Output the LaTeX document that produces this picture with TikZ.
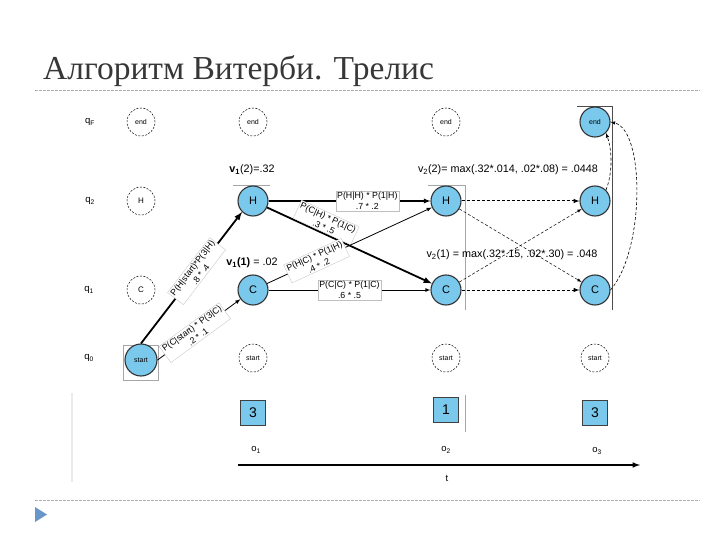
\documentclass[tikz,border=0pt]{standalone}
\usepackage{fontspec}
\setmainfont{Liberation Sans}
\newfontfamily\titlefont{Liberation Serif}
\usetikzlibrary{arrows, positioning, calc}
\definecolor{stateblue}{RGB}{122,200,236}
\definecolor{titlegray}{RGB}{55,55,55}
\definecolor{rulegray}{RGB}{175,175,175}
\definecolor{bulletblue}{RGB}{105,150,200}

\begin{document}
\begin{tikzpicture}[x=1pt, y=-1pt,
    >=latex,
    state/.style={circle, draw=black!80, line width=1.1pt, fill=stateblue, minimum size=30pt, inner sep=0pt, font=\fontsize{11}{11}\selectfont},
    ghost/.style={circle, draw, dash pattern=on 2pt off 1.5pt, line width=0.5pt, minimum size=28pt, inner sep=0pt, font=\fontsize{8}{8}\selectfont},
    obsbox/.style={rectangle, draw=black!75, line width=0.9pt, fill=stateblue, minimum size=25pt, inner sep=0pt, font=\fontsize{14}{14}\selectfont},
    edgelbl/.style={fill=white, draw=black!25, line width=0.3pt, align=center, inner sep=1.5pt, font=\fontsize{8.8}{10.5}\selectfont},
    vallbl/.style={font=\fontsize{10.8}{11}\selectfont, inner sep=0pt},
    rowlbl/.style={font=\fontsize{9.5}{10}\selectfont, inner sep=0pt},
    frame/.style={draw=black!35, line width=0.4pt}
]
    \useasboundingbox (0,0) rectangle (720,540);

    % Title and rules
    \node[anchor=base west, inner sep=0pt, text=titlegray, font=\titlefont\fontsize{33.5}{34}\selectfont] (title) at (43,80) {Алгоритм Витерби. Трелис};
    \coordinate (rtl) at (35,90);  \coordinate (rtr) at (700,90);
    \coordinate (rbl) at (35,500); \coordinate (rbr) at (700,500);
    \draw[rulegray, dash pattern=on 3pt off 1pt, line width=0.8pt] (rtl) -- (rtr);
    \draw[rulegray, dash pattern=on 3pt off 1pt, line width=0.8pt] (rbl) -- (rbr);
    \fill[bulletblue] (35,507) -- (47,514.5) -- (35,522) -- cycle;

    % Frames left over in the picture
    \draw[frame] (123,345) rectangle (158,380);
    \draw[frame] (233,185) -- (270,185);
    \draw[frame] (428,185) -- (465,185) -- (465,310);
    \draw[frame, draw=black!70] (577,106) -- (612,106) -- (612,310);
    \draw[frame] (465,395) -- (465,432);
    \draw[draw=black!8, line width=2pt] (72,393) -- (72,482);

    % Row labels
    \node[rowlbl] (qF) at (90,122) {q\textsubscript{F}};
    \node[rowlbl] (q2) at (90,201) {q\textsubscript{2}};
    \node[rowlbl] (q1) at (89,290) {q\textsubscript{1}};
    \node[rowlbl] (q0) at (89,358) {q\textsubscript{0}};

    % Column 0
    \node[ghost, font=\fontsize{7}{7}\selectfont] (end0) at (141,122) {end};
    \node[ghost] (H0) at (141,201) {H};
    \node[ghost] (C0) at (141,290) {C};
    \node[state, minimum size=32pt, font=\fontsize{7}{7}\selectfont] (start0) at (141,360) {start};

    % Column 1
    \node[ghost, font=\fontsize{7}{7}\selectfont] (end1) at (253,122) {end};
    \node[state] (H1) at (253,201) {H};
    \node[state] (C1) at (253,290) {C};
    \node[ghost, font=\fontsize{7}{7}\selectfont] (start1) at (253,358) {start};

    % Column 2
    \node[ghost, font=\fontsize{7}{7}\selectfont] (end2) at (446,122) {end};
    \node[state] (H2) at (446,201) {H};
    \node[state] (C2) at (446,290) {C};
    \node[ghost, font=\fontsize{7}{7}\selectfont] (start2) at (446,358) {start};

    % Column 3
    \node[state, font=\fontsize{7}{7}\selectfont] (end3) at (595,122) {end};
    \node[state] (H3) at (595,201) {H};
    \node[state] (C3) at (595,290) {C};
    \node[ghost, font=\fontsize{7}{7}\selectfont] (start3) at (595,358) {start};

    % Viterbi values
    \node[vallbl] (v12) at (252,170) {\textbf{v\textsubscript{1}}(2)=.32};
    \node[vallbl] (v11) at (252,263) {\textbf{v\textsubscript{1}(1)} = .02};
    \node[vallbl] (v22) at (508,170) {v\textsubscript{2}(2)= max(.32*.014, .02*.08) = .0448};
    \node[vallbl] (v21) at (512,255) {v\textsubscript{2}(1) = max(.32*.15, .02*.30) = .048};

    % Transitions from start
    \draw[->, line width=1.8pt] (start0.north) -- node[edgelbl, sloped, pos=0.55] {P(H|start)*P(3|H)\\.8 * .4} (H1.south west);
    \draw[->, line width=0.8pt] (start0.east) -- node[edgelbl, sloped, pos=0.45] {P(C|start) * P(3|C)\\.2 * .1} (C1);

    % Transitions t1 -> t2
    \draw[->, line width=1.3pt] (H1) -- node[edgelbl, pos=0.61] {P(H|H) * P(1|H)\\.7 * .2} (H2);
    \draw[->, line width=1.8pt] (H1) -- node[edgelbl, sloped, pos=0.33, above=1pt] {P(C|H) * P(1|C)\\.3 * .5} (C2);
    \draw[->, line width=0.8pt] (C1) -- node[edgelbl, sloped, pos=0.3] {P(H|C) * P(1|H)\\.4 * .2} (H2);
    \draw[->, line width=0.8pt] (C1) -- node[edgelbl, pos=0.5] {P(C|C) * P(1|C)\\.6 * .5} (C2);

    % Transitions t2 -> t3
    \draw[->, line width=1pt, dash pattern=on 3pt off 2pt] (H2) -- (H3);
    \draw[->, line width=0.5pt, dash pattern=on 3pt off 2pt] (H2) -- (C3);
    \draw[->, line width=0.5pt, dash pattern=on 3pt off 2pt] (C2) -- (H3);
    \draw[->, line width=1pt, dash pattern=on 3pt off 2pt] (C2) -- (C3);

    % Transitions to end
    \draw[->, line width=0.6pt, dash pattern=on 3pt off 2pt] (H3.north east) .. controls (613,172) and (612,150) .. (end3.south east);
    \draw[->, line width=0.6pt, dash pattern=on 3pt off 2pt] (C3.east) .. controls (645,250) and (645,130) .. (end3.east);

    % Observations
    \node[obsbox] (obs1) at (253,413) {3};
    \node[obsbox] (obs2) at (446,410) {1};
    \node[obsbox] (obs3) at (595,413) {3};
    \node[rowlbl] (o1) at (256,450) {o\textsubscript{1}};
    \node[rowlbl] (o2) at (446,450) {o\textsubscript{2}};
    \node[rowlbl] (o3) at (597,451) {o\textsubscript{3}};

    % Time axis
    \coordinate (tleft) at (238,465);
    \coordinate (tright) at (640,465);
    \draw[->, line width=1.5pt] (tleft) -- (tright);
    \node[rowlbl] (tlbl) at (447,478) {t};
\end{tikzpicture}
\end{document}
